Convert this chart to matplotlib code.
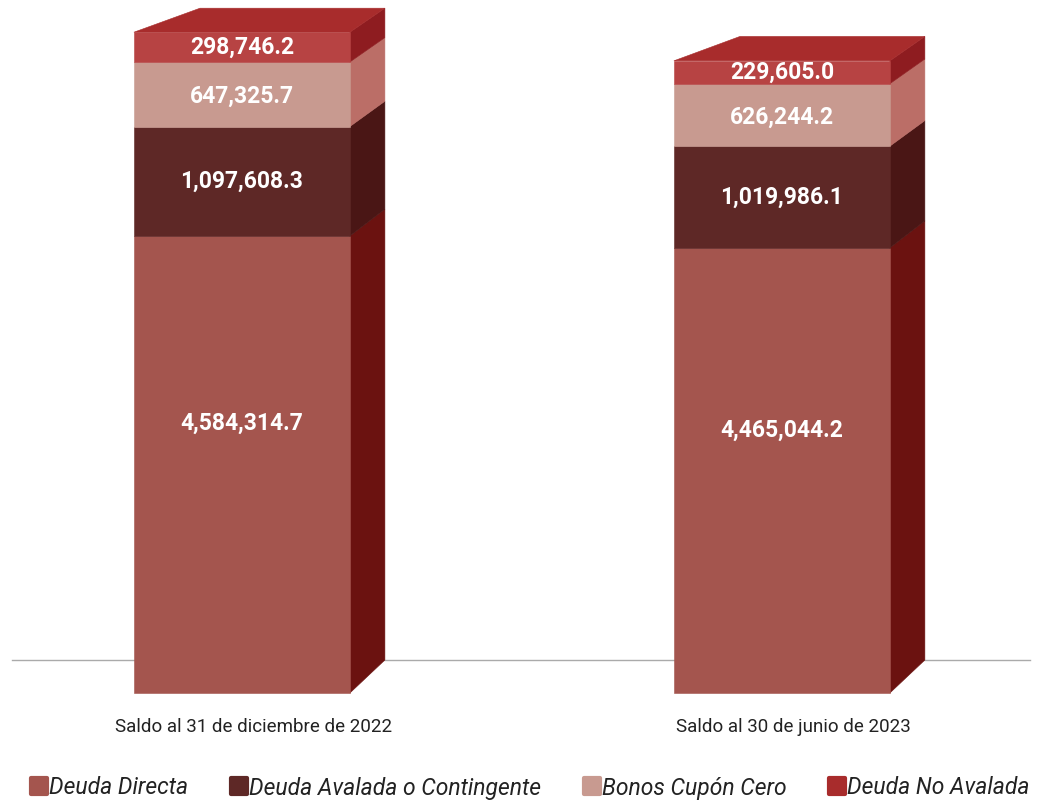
import matplotlib
matplotlib.use("Agg")
import matplotlib.pyplot as plt
from matplotlib.patches import Polygon
from matplotlib.lines import Line2D
from matplotlib.markers import MarkerStyle

# Data (millones de pesos)
periods = ["Saldo al 31 de diciembre de 2022", "Saldo al 30 de junio de 2023"]
series = ["Deuda Directa", "Deuda Avalada o Contingente", "Bonos Cupón Cero", "Deuda No Avalada"]
deuda_directa = [4584314.7, 4465044.2]
deuda_avalada = [1097608.3, 1019986.1]
bonos_cupon = [647325.7, 626244.2]
deuda_no_avalada = [298746.2, 229605.0]
values = [deuda_directa, deuda_avalada, bonos_cupon, deuda_no_avalada]

# front / side colours per series, plus top face of the stack
front_colors = ["#a4554e", "#5e2826", "#c89a90", "#b74343"]
side_colors = ["#6b1210", "#4a1615", "#bb6e67", "#8e1c20"]
legend_colors = ["#a4554e", "#5e2826", "#c89a90", "#a82c2c"]
top_color = "#a82c2c"
# where the value label sits inside each segment (fraction of its height)
label_frac = [0.59, 0.5, 0.47, 0.5]

plt.rcParams["font.family"] = ["Roboto", "DejaVu Sans"]

fig = plt.figure(figsize=(10.4, 8), dpi=100)
ax = fig.add_axes([0, 0, 1, 1])
ax.set_xlim(-0.448, 1.478)
ax.set_ylim(-1.0732e6, 6.951e6)
ax.axis("off")

width = 0.4
depth_left = 0.306 * width
depth_right = 0.162 * width


def dy(v):
    # fake perspective: depth shrinks a bit towards the top
    return 0.331e6 - 0.0136 * v


# floor line
ax.plot([-0.426, 1.459], [dy(0), dy(0)], color="#aaaaaa", lw=1, zorder=1)

for i, period in enumerate(periods):
    x = i
    xl, xr = x - width / 2, x + width / 2
    bottom = 0.0
    for s in range(len(series)):
        v = values[s][i]
        top = bottom + v
        ax.bar(x, v, bottom=bottom, width=width, color=front_colors[s],
               edgecolor=front_colors[s], linewidth=0.4, zorder=3)
        side = Polygon([(xr, bottom), (xr, top),
                        (xr + depth_right, top + dy(top)),
                        (xr + depth_right, bottom + dy(bottom))],
                       closed=True, facecolor=side_colors[s],
                       edgecolor=side_colors[s], linewidth=0.4, zorder=2)
        ax.add_patch(side)
        ax.text(x, bottom + v * label_frac[s], f"{v:,.1f}", ha="center", va="center",
                color="white", fontsize=16.5, fontweight="bold", zorder=5)
        bottom = top
    # top face
    cap = Polygon([(xl, bottom), (xr, bottom),
                   (xr + depth_right, bottom + dy(bottom)),
                   (xl + depth_left, bottom + dy(bottom))],
                  closed=True, facecolor=top_color, edgecolor=top_color,
                  linewidth=0.4, zorder=2)
    ax.add_patch(cap)
    ax.text(x + 0.022, -0.341e6, period, ha="center", va="center",
            color="#222222", fontsize=13.5)

handles = [Line2D([], [], linestyle="none",
                  marker=MarkerStyle("s", joinstyle="round"),
                  markersize=12, markeredgewidth=3,
                  markerfacecolor=c, markeredgecolor=c) for c in legend_colors]
fig.legend(handles, series, loc="center", bbox_to_anchor=(0.51, 0.015),
           ncol=4, frameon=False, handlelength=0.7, handletextpad=0.1,
           columnspacing=1.85, prop={"family": ["Roboto", "DejaVu Sans"],
                                     "style": "italic", "size": 16.5},
           labelcolor="#222222")

fig.savefig("out.png", dpi=100)
